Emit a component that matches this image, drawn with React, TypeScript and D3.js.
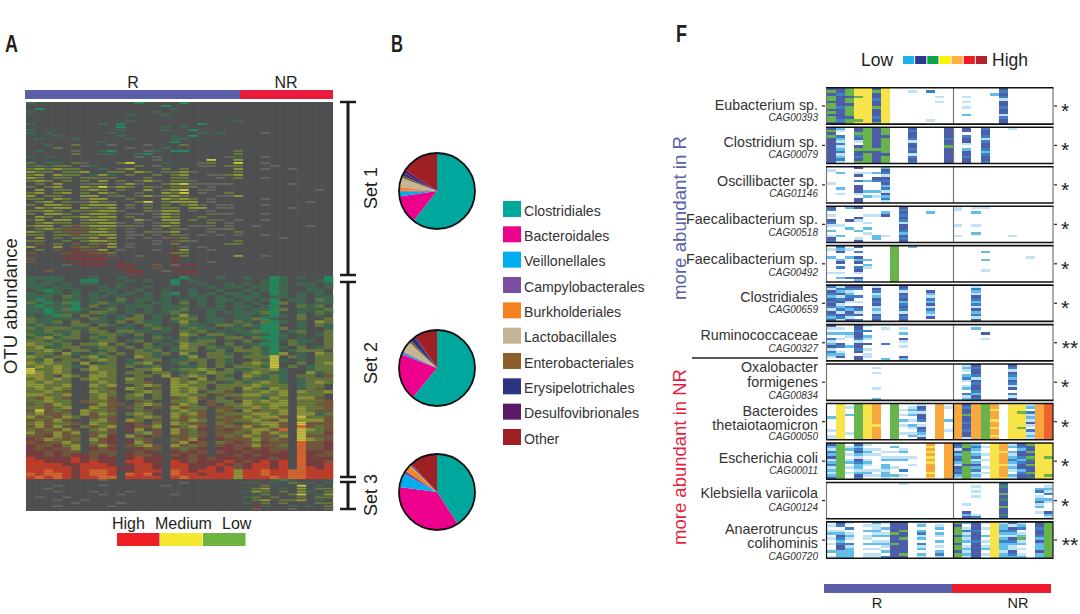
import { useRef, useEffect } from 'react';
import * as d3 from 'd3';

const FONT = '"Liberation Sans", Arial, sans-serif';

// Panel A, one string per OTU row: R samples | NR samples
const set1Rows = [
  'g...........G....G......|..........',
  '...............G........|..........',
  '.G..............g.......|..........',
  'g.............g.........|..........',
  '...........g...g........|..........',
  '........................|..........',
  '...........g...........g|..........',
  'g.......g.G........G....|..........',
  '..........G....g.g......|..........',
  'g.........g....g..G.....|..........',
  'g.g......g.........g.g..|..,.......',
  '...g......g.....g.G.....|..........',
  '.g...g.....g....gg......|..........',
  '........g.......G.......|..........',
  '..g..o...,...,...o......|..........',
  '...o.......,...g........|..........',
  '.g...,..gG...,g.GG.....o|..........',
  '.....o..gg..gG.........o|..........',
  'g.g.........,.,.......,g|..,.......',
  '..............,.....Y..y|..........',
  'o.gg.o,...oY...g...,o..Y|..,.......',
  'gogoo.,g....o.,....,,.oo|...,......',
  'oyoyoo..g.,y...o.o.....y|..,..,....',
  'yoo.ooy..oo.yo.,oy,....o|..........',
  'oy.yoo.gyg.o..o.oy..,,oy|..........',
  'yo.oo.oo,o...o..oo...,.o|..,.......',
  'oyo.o.o.y.o.,y,.oo,.....|..........',
  '.o.y..,oo.,y,..oyY,,,,,.|.....,....',
  'o.oy..yoY,yo.o,.ooo.,...|..........',
  '.y.oo.oyo.o..y.oyY.,,...|........,.',
  'oy.oy.o.yo..,..yoY.,..o.|..........',
  'y.oo..yy.,o.,y,oyo...,,y|..........',
  'oo.yo.,yy..o...yoyo.,...|..,.......',
  '.oy.o,,yo,..oY.oyyy.,...|.......,..',
  'o.yyo.oyyy.o.,.o.oy,.,,.|..,.......',
  '.yoyy.yooy.,.o.oo.yy.,,.|.....,....',
  'ooyo.o,oyy,..o,yy.,.,...|..........',
  'o.yyo.oyyo.,,.,yo...,,,.|..,.......',
  '.yo.ooyoyy.o..,yo..o....|..........',
  'by.yy.oyyo..y,.yy.o.,,.,|..,.......',
  '.oyoo.ooyy,.,.,oy...o.,.|..........',
  'oyy.oboyyy,o,.,yo.,,,.,.|.,.....,..',
  '.oyobbboyo.,..,.o,..,,o.|..........',
  'yo.obbbyyo.,.o,oy...,..o|..........',
  'oo.oobooyy.,,.,.o,.,.,.,|..,.......',
  '.y.o.ooyby.,.,.,bo......|....,.....',
  'oo..o.oyyo....,.bo,....o|..........',
  '.b.o.b.oby.,..,.o.....oo|..........',
  'y..y.bob.y.,.....,.,....|..........',
  '.o.b.dbby.,...,.dy..,...|..........',
  'b...bddbbo......oo......|..........',
  '....dddddb..,...do.....y|..,.......',
  'b...ddddd.......d.......|..........',
  'b....dddd.d.....d...,...|..........',
  '....,.ddd.dd..b.,dd.....|..........',
  '..........dd..b.d.......|..........',
  '..b........dd..,.dd.....|..........',
  '...........dd....dd.....|..........',
];

const set2Rows = [
  'gggg...g..g......G...g..|g..Gg.g..G',
  'g.gg..GG...g.g..G.g.....|..gGg...gG',
  'ggg.g.gg..g.....G..g..g.|g.gGg.gg.g',
  'gg.gg...g.g..g......g.gg|.ggGg..g.g',
  '.gGg.g..gg..g..g..g..g..|g.gGg..gg.',
  'g.gg.g.g.g.g.g.gG.g.g.gg|.g.Gg.g.g.',
  'ggg.og.gg.g..g.g..gg.g.g|gg.gg.g.gg',
  'gGg.gg.g..o.gg.g.g.g.gg.|g.gG.gg.og',
  'ogGgoG.gogg.g.gg.o.g.g.g|.g.Go.g.gg',
  'gGgggG.o.g.ggg.ggg.g.g.g|g.gG..ogo.',
  'ggGgoGg.go.g.g.ggo..gg.g|.ggGo.gggo',
  'ggGggg.oog.g.g.gog..g.gg|ggoG..g.og',
  'g.gGo.o.g.g.o.g.gyg.g..g|g.gGg.o.g.',
  'oggggg.og.goo.g.ooo.gg.g|goGg..o..o',
  'oggo.o.gg.o.ogg.gyg.gg.o|g.oGg.g.yo',
  'gogg.oo.og.g.og..ogg.oog|ogGG..g.og',
  'ogoooggo..gg.gog.gogg.gg|.gGGo.g..g',
  'ggoggo.oo.oogg.g.ogo.g.g|goGG.go..o',
  'oggogo.goog.o.g..yo.oog.|gggGg.g.go',
  'goygoo.ogo..g.og.o.gg.oo|.oGGg.g..o',
  'oogog..goo.go.g.gogoo.g.|o.gG.ogg.o',
  'yoogo.ooy.o..o.g.yoog.o.|ggGG.og..o',
  'oyggoo.goo.o.og.gyo.oggo|.ogGg.o.go',
  'ooyo.oo.go..ogo.goo.go.o|oogG.gooo.',
  'goo.yg.go.o.oogo.yg.oog.|gogGy.g.yo',
  'yogoo.oygo..yog..gy.ooo.|oooY.og.oo',
  'ogy.oo.oyo.g.oo.ggoo.og.|.ogYg.g.oo',
  'yoyoo.y.go.goy..go.o.og.|oyoY..o.oy',
  'oyoyog.yoo.o.go..ggo.o.o|oogY.o.goo',
  'Yooyo.oyoo..ooy.gooyo.og|gooyg..goo',
  'Yyoyo..oyo.oo.oo.gogyoo.|oyogg..ygo',
  'yyo.yo.yyo..oo.y.oyo.og.|yogog.oo.b',
  'oyoyo.oyoo.yo...yo.y.oo.|oggog.gooo',
  'yoyoo..oyo.oob..yoyoo.go|goyog.goyo',
  'yyooy..yoy..oyo.yyoo.ooo|oyooo.goo.',
  'oyoyo..oob.yo.b.yoyo.oo.|yogyo.gob.',
  'ooyob..yoo..oyo.yoy.oob.|ooyoy.yooy',
  'yyooy..oyo.oy.o.yyoo.boo|yyooy.ooo.',
  'obyob..oyb.oo.o.boyb.o.b|oogyo.yyb.',
  'ooyoo.boob..bo..ooy.boo.|yoyoy.ooob',
  'bobyo..bybb.oyo.byo.b.oo|yooyy.oobb',
  'ooboy..yob.bo.b.yboo.bbo|oyoyo.yoob',
  'bYbob.yoob..ob..oyob.ob.|ybooy.yobb',
  'oybbo.ybyo.oyo..yoyb.boo|oyyoy.yygo',
  'ybobyo.bob..oyo.ybob.obb|yoyyb.Yoob',
  'bobyb..oyb.yo.b.obyo.bbo|oyoby.yyyb',
  'oyboob.yob.db.o.yobb.ob.|boyyb.Ybbb',
  'bybyb.oboy..bby.boyb.bob|yboyb.Rbob',
  'obobyb.oyb.dy.b.ybod.bdb|oyybR.Yyob',
  'ybbyby.bob..oyb.ybob.bbo|bybyo.Yood',
  'bbdybb.byd.yb.b.bbob.bob|yobby.Ybbb',
  'dbyobo.ybd..ob..obyd.dbb|bybob.Yyob',
  'bdbbyb.obd.dyb..bydb.obd|bodbb.Rbbd',
  'dbbdoy.byb.boyb.ybob.bdb|bybbo.Rbbd',
  'dbdbby.dbd..dbb.bobd.ddb|dbdbb.Rbbd',
  'ddbdbb.bbb.dbd..dbdb.bdd|bddbd.Rddb',
  'ddbdbddbdb.dbbd.bdbd.ddb|dbddd.Rdbb',
  'rddddrdbdd.drdd.ddbdbddd|dddbd.Rddd',
  'rrdddrdrdd.rrdd.rdbdddrd|bdrdr.Rddb',
  'rrrrddrrrd.drrd.rrdddrdb|drrdr.Rddr',
  'rrrrrdrrrrddrrd.rrddrdrb|drrdr.Rrdr',
  'rrRrrdrRRr.drrr.Rrdrrdry|rrRrrRRrrr',
  'RrRRrdrRRr.RrRd.Rrrdrrry|rrRrrRRrrr',
  'rRrRrdrrRR.rrrr.rRrrrrry|rrrRrRRrrr',
];

const set3Rows = [
  '........,...............|...gGg...g',
  '.................,......|gg.g.ogg.g',
  '...,....,......,........|..o...Y.g.',
  '..,.....................|.oy.g.y.oo',
  '...,...,...,............|gyo.o.yg.o',
  '........,.,.....,.......|.go..oY.gy',
  '.,..,...................|go.o..o.oo',
  '...,..,.................|.oy.ooy.g.',
  '.....,....,.............|g.o.o...oo',
  '...,.....,..............|.dg..g.g.o',
  '........................|.b...,...,',
];

const heatColours: Record<string, string> = {
  ',': '#66675c',
  g: '#3d6a50',
  G: '#1f8f5c',
  o: '#677a3a',
  y: '#929a34',
  Y: '#cfc83a',
  b: '#75583a',
  d: '#7c3b3c',
  r: '#cf3a24',
  R: '#e4662a',
};

// Panel B
const orders = [
  'Clostridiales', 'Bacteroidales', 'Veillonellales', 'Campylobacterales', 'Burkholderiales',
  'Lactobacillales', 'Enterobacteriales', 'Erysipelotrichales', 'Desulfovibrionales', 'Other',
];
const orderColours = [
  '#00a79d', '#ec008c', '#00aeef', '#7b4fa0', '#f58220',
  '#c4b594', '#8b5e2b', '#2a3480', '#5a1a66', '#9e1f24',
];
const set1Shares = [60.4, 12, 2, 0.5, 1.5, 4, 1, 1.2, 1.5, 15.5];
const set2Shares = [61, 20, 0.8, 0.4, 0.3, 4.5, 1, 2, 0.6, 9.5];
const set3Shares = [40.5, 35.9, 5.8, 1.5, 2.5, 0.3, 0.3, 0.3, 0.3, 11.7];

// Panel F
const genes = [
  'CAG00393', 'CAG00079', 'CAG01146', 'CAG00518', 'CAG00492', 'CAG00659',
  'CAG00327', 'CAG00834', 'CAG00050', 'CAG00011', 'CAG00124', 'CAG00720',
];
const geneNames = [
  ['Eubacterium sp.'], ['Clostridium sp.'], ['Oscillibacter sp.'], ['Faecalibacterium sp.'],
  ['Faecalibacterium sp.'], ['Clostridiales'], ['Ruminococcaceae'], ['Oxalobacter', 'formigenes'],
  ['Bacteroides', 'thetaiotaomicron'], ['Escherichia coli'], ['Klebsiella variicola'],
  ['Anaerotruncus', 'colihominis'],
];
const significance = ['*', '*', '*', '*', '*', '*', '**', '*', '*', '*', '*', '**'];

// one string per sample, '' = nothing detected; 25 samples, first 14 are R
const geneCells = [
  ['bgbggbggbgbggb', 'bbmbbbbmbbbbmb', 'gggbggbggggbgg', 'yyygyyyyyyyygy', 'yyyyyyyyyyyyyy', 'bgbbmbbgbbbmbg', 'yyyyyyyyyyyyyy', '', '', '.l............', '', '.m..........l.', '...l.l........', '', '',
    '...l.l.l..c...', '', '', '..c...........', 'bmbmlbbmbblmbb', '', '', '', '', ''],
  ['bgbgbbbbbbbbbb', 'cl.mclmlcmlcml', '', 'bbgmbl.bgbbmbg', 'gggggggggbgggg', 'bbbbbbbbgbbbbb', 'gggbggggggbggg', '', '', 'bmbbmlbbmblmbm', '', '', '', 'bbbbmbbgbbbbbb', '',
    'bb.mbbl.cbbmbb', '', 'mbbmlmbbmcmbbm', '', '', 'l.............', '', '', '', ''],
  ['.l....l.......', '..c.....c.l...', '', 'b.lb.m.bbbl.bb', '..l..c...c.c..', '..c.bm...c.l..', 'cbmlbmbcmlbcml', '', '', '', '', '', '', '', '',
    '', '', '', '', '', '', '', '', '', ''],
  ['bm.l.bml.c.lbm', '.......l...c..', 'c....b..c.....', 'b...bl...c..lb', '...l..l.c.l...', '...l.......cc.', '..cb.......l..', '', 'bmbmbmlbbmcbmb', '', '', '..c...........', '', '',
    'll.....l...l..', '', 'l.c....l..c...', 'l.............', '', '', '...........l..', '', '', '', ''],
  ['.l..c.....l...', 'mcb..cb.m.l.c.', '.l..c.......m.', 'b.m.bcb.mbl.bc', '.....c.cl.....', '', '', 'gggggggggggggg', '', 'c.............', '', '', '', '', '',
    '', '', '..c..c...l....', '', '', '', '', '....l.........', '', ''],
  ['mlbmcbmbmlbmcb', 'lmcblmblcmlbml', 'bmlcmbl.mcbmlb', 'bm..m.l.bmlb.m', '', 'lbmlcbmblclbmb', '', '', 'bmlbmbcmbmlbmb', '', '', '..bclmcblmclb.', '', '',
    '', '', 'lmclbmcmlbcmlb', '', '', '', '', '', '', '', ''],
  ['bl.c.mlcblmcl.', '.l.c.l.bm.lcb.', '...cl...c.....', 'bbmbbmlbbmb.bb', 'l.m.cl.b.l.ll.', '', '.l.....m.....c', '', '.l.c.bl.l...bc', '', '', '', '', '', '',
    '', '.c............', '...b.l........', '', '', '', '', '', '', ''],
  ['', '', '', '', '', '.l.l.....l...c', '', '', '', '', '', '', '', '', '',
    'lcl.cml.lc.mlc', 'bmbbmlbmbbmcbm', '', '', '', 'bmlbmcbmlb.mlb', '', '', '', ''],
  ['.....c....l.ll', 'yyyyyyyyyyyyyy', '.l..c......l..', 'gggggggggggggg', 'yyyyyyyyyyyyyy', 'ooooooooyooooo', '', 'gggggggggggggg', '..l.l.c.l..l..', '.lclc.l.cl.lc.', 'lbmlbbm.lbmclb', '', 'oooooooooooooo', '.l....c...l...',
    'oooooooooooooo', 'bmbbgbbmbbmbbl', 'oooooooooooooo', 'gggggggggggggg', 'ooyoooyooyooyo', '', 'yyyyyyyyyyyyyy', 'yyygyyyyygyyyy', 'lc.mlclbl.mlcl', 'oooooooooooooo', 'rrrrrrrrrrrrrr'],
  ['bclmcblcmlclcb', 'gggggggggggggg', '.lc.l.lc.l.l..', 'bcmbclbmcclcbm', 'l.lcl.lcl.lcl.', '..l.l.....l.l.', '...l.lc.cclccl', '.c.l.lc..l..c.', '..lc.lc...m.l.', '.....l..l.....', '', 'oyoyoyoyoooyoy', '', 'oooooooooooooo',
    'bmlbcmbclbmbcl', 'ggbgggggbggggg', 'cmclcmlcbcmlcl', '.l..l.l..l.l..', 'yyyyyyyyyyyyyy', 'oooyooooyooooy', 'lc.clcmclcl.cl', 'bmcbbmcmbbcmbb', 'gbbgbgdbgbbgbd', 'yyyyyyyyyyyyyy', 'yyyyygyyyyyygy'],
  ['', '', '', '', '', '', '', '', 'l.............', '', '', '', '', '', '',
    '........l..bcb', '.l.l.l......lm', '', '', 'bdbbgbdbbgbbdb', '', '', '', '..cm.lcmlc.l..', '.lclm.cl...bcl'],
  ['.l.lc.l.l..c.l', 'bm.lcbmcmbbccc', 'l.m.lcl.mlcccc', '', '.l.c.ll.c.l.ll', 'cllclc.lc.l.ll', 'l.c.lc.lcl.c.m', 'bbbbgbbbgbbbbb', 'bbbgbbgbbbbbgb', '', 'lc.cmlc.mlc.cl', '', '.lc.cl.c.l.cml', '',
    'gbgggbggbggbgg', 'c.lmlclc.lclcl', 'bbbmbbbmbbbbbb', 'l.l..c.l.lc.l.', 'yyyyyyyyyyyyyy', 'lccmclcmccclcc', 'mlbmclbmcllbmc', 'lcm.lcglc.l.lc', '', 'bbmbbmcbcccbcc', 'gggggggggggggg'],
];

const geneColours: Record<string, string> = {
  l: '#bfe3f5',
  c: '#62bde8',
  m: '#3f80c4',
  b: '#4c5ea9',
  d: '#3d8a6a',
  g: '#69b34c',
  y: '#f6e44a',
  o: '#f7a83e',
  r: '#f0622d',
};
const scaleColours = ['#1ab2e8', '#2b3990', '#0ca44a', '#fff200', '#fbb040', '#ed1c24', '#b2232f'];

// text baselines under each panel's top edge: name lines, then the CAG id
const LABEL_Y = [
  [22, 33], [20, 31], [19, 30], [18, 30], [18, 30], [17, 28],
  [15, 27], [8, 23, 35], [12, 26, 36], [20, 31], [16, 29], [12, 26, 38],
];

const BLUE = '#5a5fa8';
const RED = '#ea1c3e';

export default function App() {
  const svgRef = useRef<SVGSVGElement>(null);

  useEffect(() => {
    const svg = d3.select(svgRef.current);
    svg.selectAll('*').remove();

    const addText = (x: number, y: number, s: string, size: number, extra: any = {}) => {
      const t = svg.append('text')
        .attr('x', x).attr('y', y)
        .attr('font-family', FONT)
        .attr('font-size', size)
        .attr('fill', extra.fill || '#231f20')
        .attr('text-anchor', extra.anchor || 'start')
        .text(s);
      if (extra.weight) t.attr('font-weight', extra.weight);
      if (extra.style) t.attr('font-style', extra.style);
      if (extra.rotate) t.attr('transform', `rotate(-90,${x},${y})`);
      // panel letters are a condensed bold in the original
      if (extra.squeeze) t.attr('textLength', extra.squeeze).attr('lengthAdjust', 'spacingAndGlyphs');
      return t;
    };

    addText(5, 52, 'A', 23, { weight: 'bold', squeeze: 13 });
    addText(391, 52, 'B', 23, { weight: 'bold', squeeze: 12 });
    addText(676, 42, 'F', 23, { weight: 'bold', squeeze: 11 });

    // Panel A
    const heatX = d3.scaleBand<number>().domain(d3.range(34)).range([26, 333]);
    const bar = svg.append('g');
    bar.append('rect').attr('x', 25).attr('y', 90).attr('width', 215).attr('height', 9).attr('fill', BLUE);
    bar.append('rect').attr('x', 240).attr('y', 90).attr('width', 93).attr('height', 9).attr('fill', RED);
    addText(133, 88, 'R', 16, { anchor: 'middle' });
    addText(286, 88, 'NR', 16, { anchor: 'middle' });
    addText(17, 306, 'OTU abundance', 18.5, { anchor: 'middle', rotate: true });

    svg.append('rect').attr('x', 26).attr('y', 102).attr('width', 307).attr('height', 409).attr('fill', '#4e4f50');

    // dense rows fill their band, sparse sets are thin flecks on the grey
    const heatBlocks: [string[], number, number, number][] = [
      [set1Rows, 102, 276, 0.62],
      [set2Rows, 276, 479, 1],
      [set3Rows, 479, 511, 0.62],
    ];
    heatBlocks.forEach(([rows, y0, y1, fill]) => {
      const y = d3.scaleBand<number>().domain(d3.range(rows.length)).range([y0, y1]);
      const cells = rows.flatMap((row, r) => {
        const [a, b] = row.split('|');
        const chars = [...a.padEnd(24, '.').slice(0, 24), ...b.padEnd(10, '.').slice(0, 10)];
        return chars.map((c, i) => ({ c, i, r })).filter(d => d.c !== '.');
      });
      svg.append('g')
        .selectAll('rect').data(cells).join('rect')
        .attr('x', d => heatX(d.i)!)
        .attr('y', d => y(d.r)!)
        .attr('width', heatX.bandwidth() + 0.3)
        .attr('height', y.bandwidth() * fill)
        .attr('fill', d => heatColours[d.c]);
    });

    // fine row texture over the dense block
    const denseY = d3.scaleBand<number>().domain(d3.range(set2Rows.length)).range([276, 479]);
    svg.append('g').selectAll('line').data(d3.range(set2Rows.length)).join('line')
      .attr('x1', 26).attr('x2', 333)
      .attr('y1', d => denseY(d)! + denseY.bandwidth() / 2)
      .attr('y2', d => denseY(d)! + denseY.bandwidth() / 2)
      .attr('stroke', '#4e4f50').attr('stroke-width', 0.9).attr('opacity', 0.3);

    svg.append('g').selectAll('line').data(d3.range(1, 34)).join('line')
      .attr('x1', d => heatX(d)!).attr('x2', d => heatX(d)!)
      .attr('y1', 102).attr('y2', 511)
      .attr('stroke', '#8a8a8a').attr('stroke-width', 0.4).attr('opacity', 0.2);

    // Set brackets
    const brackets: [string, number, number, number][] = [
      ['Set 1', 102, 275, 188],
      ['Set 2', 282, 477, 363],
      ['Set 3', 482, 509, 495],
    ];
    brackets.forEach(([label, y0, y1, ly]) => {
      const g = svg.append('g').attr('stroke', '#1a1a1a');
      g.append('line').attr('x1', 348).attr('x2', 348).attr('y1', y0).attr('y2', y1).attr('stroke-width', 3);
      [y0, y1].forEach(v => {
        g.append('line').attr('x1', 340).attr('x2', 356).attr('y1', v).attr('y2', v).attr('stroke-width', 2.5);
      });
      addText(377, ly, label, 18, { anchor: 'middle', rotate: true });
    });

    // High / Medium / Low key
    addText(112, 529, 'High', 16);
    addText(155, 529, 'Medium', 16);
    addText(222, 529, 'Low', 16);
    const keyX = d3.scaleLinear().domain([0, 3]).range([117, 246]);
    ['#ee2024', '#f5e72f', '#6cb33f'].forEach((c, i) => {
      svg.append('rect').attr('x', keyX(i)).attr('y', 533).attr('width', keyX(1) - keyX(0) - 0.5).attr('height', 13).attr('fill', c);
    });

    // Panel B
    const pie = d3.pie<number>().sort(null).value(d => d);
    const arc = d3.arc<d3.PieArcDatum<number>>().innerRadius(0).outerRadius(38);
    const pies: [number[], number][] = [[set1Shares, 191], [set2Shares, 368], [set3Shares, 492]];
    pies.forEach(([shares, cy]) => {
      const g = svg.append('g').attr('transform', `translate(437,${cy})`);
      g.selectAll('path').data(pie(shares)).join('path')
        .attr('d', arc)
        .attr('fill', (_, i) => orderColours[i]);
      g.append('circle').attr('r', 38).attr('fill', 'none').attr('stroke', '#111').attr('stroke-width', 1.8);
    });

    const legendY = d3.scalePoint<string>().domain(orders).range([201, 429]);
    orders.forEach((o, i) => {
      svg.append('rect').attr('x', 503).attr('y', legendY(o)!).attr('width', 18).attr('height', 16).attr('fill', orderColours[i]);
      addText(524, legendY(o)! + 14.5, o, 14.1, { fill: '#333' });
    });

    // Panel F
    const geneY = d3.scaleBand<string>().domain(genes).range([87, 559]).paddingInner(0.08).paddingOuter(0.02);
    const sampleX = d3.scaleBand<number>().domain(d3.range(25)).range([826.5, 1053]);
    const rowBand = d3.scaleBand<number>().domain(d3.range(14)).range([0, geneY.bandwidth()]);

    genes.forEach((gene, gi) => {
      const top = geneY(gene)!;
      const h = geneY.bandwidth();
      const g = svg.append('g').attr('transform', `translate(0,${top})`);
      const cells = geneCells[gi].flatMap((col, i) =>
        [...col].map((c, r) => ({ c, i, r })).filter(d => d.c !== '.'));
      g.append('g').attr('shape-rendering', 'crispEdges')
        .selectAll('rect').data(cells).join('rect')
        .attr('x', d => sampleX(d.i)!)
        .attr('y', d => rowBand(d.r)!)
        .attr('width', sampleX.bandwidth())
        .attr('height', rowBand.bandwidth())
        .attr('fill', d => geneColours[d.c]);

      const solid = gi === 8 || gi === 9 || gi === 11;
      const sideColour = solid ? '#111' : '#777';
      [826.5, 953.5, 1053].forEach(x => {
        g.append('line').attr('x1', x).attr('x2', x).attr('y1', 0).attr('y2', h)
          .attr('stroke', sideColour).attr('stroke-width', 1.2);
      });
      [0, h].forEach(v => {
        g.append('line').attr('x1', 826).attr('x2', 1053.5).attr('y1', v).attr('y2', v)
          .attr('stroke', '#111').attr('stroke-width', 1.6);
      });
      g.append('line').attr('x1', 822).attr('x2', 825).attr('y1', h / 2).attr('y2', h / 2).attr('stroke', '#222').attr('stroke-width', 1.2);
      g.append('line').attr('x1', 1054).attr('x2', 1057).attr('y1', h / 2).attr('y2', h / 2).attr('stroke', '#222').attr('stroke-width', 1.2);

      const ys = LABEL_Y[gi];
      geneNames[gi].forEach((name, k) => {
        addText(818, top + ys[k], name, 14.3, { anchor: 'end', fill: '#333' });
      });
      addText(818, top + ys[ys.length - 1], gene, 10, { anchor: 'end', style: 'italic', fill: '#333' });

      addText(significance[gi].length > 1 ? 1070 : 1065, top + h / 2 + 12, significance[gi], 21, { anchor: 'middle', fill: '#222' });
    });

    svg.append('line').attr('x1', 692).attr('x2', 818).attr('y1', 358).attr('y2', 358).attr('stroke', '#222').attr('stroke-width', 1.6);
    addText(686, 218, 'more abundant in R', 18.7, { anchor: 'middle', rotate: true, fill: BLUE });
    addText(686, 457, 'more abundant in NR', 18.5, { anchor: 'middle', rotate: true, fill: RED });

    addText(861, 66, 'Low', 17.5);
    addText(992, 66, 'High', 17.5);
    const scaleX = d3.scaleBand<number>().domain(d3.range(7)).range([903, 987]).paddingInner(0.08);
    scaleColours.forEach((c, i) => {
      svg.append('rect').attr('x', scaleX(i)!).attr('y', 56).attr('width', scaleX.bandwidth()).attr('height', 8).attr('fill', c);
    });

    svg.append('rect').attr('x', 824).attr('y', 584).attr('width', 128).attr('height', 9).attr('fill', BLUE);
    svg.append('rect').attr('x', 952).attr('y', 584).attr('width', 99).attr('height', 9).attr('fill', '#ed1c2e');
    addText(877, 608, 'R', 14.5, { anchor: 'middle' });
    addText(1018, 608, 'NR', 14.5, { anchor: 'middle' });
  }, []);

  return (
    <svg
      ref={svgRef}
      width={1080}
      height={614}
      style={{ position: 'absolute', left: 0, top: 0, background: '#fff' }}
    />
  );
}
